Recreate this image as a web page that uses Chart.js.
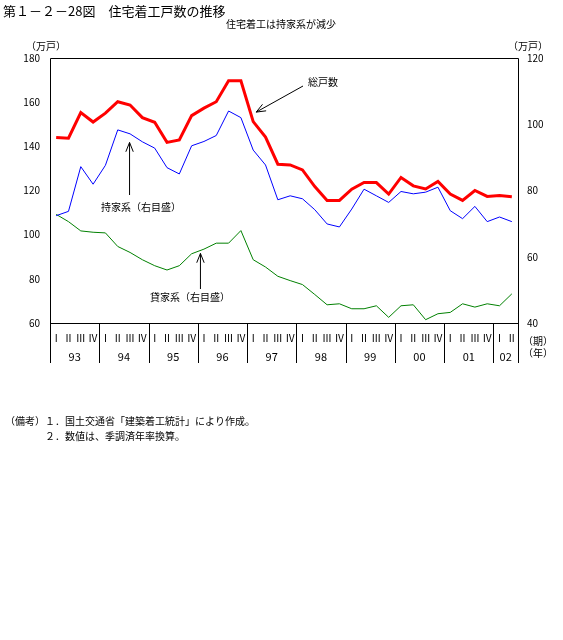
<!DOCTYPE html>
<html>
<head>
<meta charset="utf-8">
<script src="https://cdn.jsdelivr.net/npm/chart.js@4/dist/chart.umd.min.js"></script>
<style>
  html, body { margin: 0; padding: 0; background: #fff; }
  #wrap { width: 563px; height: 640px; position: relative; }
</style>
</head>
<body>
<div id="wrap"><canvas id="grafico" width="563" height="640"></canvas></div>
<script>
// datos (trimestral, 93 I ~ 02 II)
const anios = ['93', '94', '95', '96', '97', '98', '99', '00', '01', '02'];
const trimestres = ['Ⅰ', 'Ⅱ', 'Ⅲ', 'Ⅳ'];
const trimPorAnio = [4, 4, 4, 4, 4, 4, 4, 4, 4, 2];

// 総戸数 (左目盛, 万戸)
const totalViviendas = [144, 143.7, 155.3, 151, 155, 160.2, 158.7, 153, 150.9, 141.8, 142.9, 153.9,
  157.3, 160.2, 169.7, 169.7, 151.2, 144.2, 131.9, 131.6, 129.3, 121.8, 115.5, 115.5,
  120.6, 123.6, 123.6, 118.4, 125.9, 122.1, 120.7, 124.1, 118.4, 115.5, 120, 117.3, 117.7, 117.2];
// 持家系 (右目盛)
const propias = [72.4, 73.7, 87.2, 81.9, 87.6, 98.3, 97.1, 94.7, 92.8, 86.9, 85, 93.5,
  94.8, 96.6, 104, 102, 92.2, 87.7, 77.2, 78.4, 77.5, 74.2, 69.9, 69,
  74.4, 80.4, 78.4, 76.4, 79.7, 79, 79.5, 81, 73.9, 71.5, 75.2, 70.6, 72, 70.6];
// 貸家系 (右目盛)
const alquiler = [72.8, 70.6, 67.8, 67.4, 67.2, 63.1, 61.3, 59.1, 57.3, 56, 57.3, 60.9,
  62.3, 64.1, 64.1, 67.9, 59.1, 56.9, 54.1, 52.8, 51.6, 48.6, 45.5, 45.8,
  44.3, 44.3, 45.2, 41.7, 45.2, 45.5, 41, 42.8, 43.2, 45.8, 44.8, 45.8, 45.2, 48.8];

const ticksIzq = [60, 80, 100, 120, 140, 160, 180];
const ticksDer = [40, 60, 80, 100, 120];

// etiquetas de categorias
const categorias = [];
anios.forEach(function(a, i) {
  for (let q = 0; q < trimPorAnio[i]; q++) {
    categorias.push(a + ' ' + trimestres[q]);
  }
});

const fuente = "'Noto Sans CJK JP', 'Noto Sans', sans-serif";

function flecha(ctx, x1, y1, x2, y2) {
  ctx.beginPath();
  ctx.moveTo(x1, y1);
  ctx.lineTo(x2, y2);
  const ang = Math.atan2(y2 - y1, x2 - x1);
  const L = 10, w = 0.38;
  ctx.moveTo(x2 - L * Math.cos(ang - w), y2 - L * Math.sin(ang - w));
  ctx.lineTo(x2, y2);
  ctx.lineTo(x2 - L * Math.cos(ang + w), y2 - L * Math.sin(ang + w));
  ctx.stroke();
}

const decoracion = {
  id: 'decoracion',
  afterDraw: function(chart) {
    const ctx = chart.ctx;
    const area = chart.chartArea;
    const xs = chart.scales.x;
    const yl = chart.scales.yIzq;
    const yr = chart.scales.yDer;
    const paso = (area.right - area.left) / categorias.length;
    const fondo = area.bottom + 40;

    ctx.save();
    ctx.strokeStyle = '#000';
    ctx.lineWidth = 1;

    // marco
    ctx.beginPath();
    ctx.moveTo(area.left + 0.5, fondo);
    ctx.lineTo(area.left + 0.5, area.top + 0.5);
    ctx.lineTo(area.right + 0.5, area.top + 0.5);
    ctx.lineTo(area.right + 0.5, fondo);
    ctx.moveTo(area.left, Math.round(area.bottom) + 0.5);
    ctx.lineTo(area.right, Math.round(area.bottom) + 0.5);
    ctx.stroke();

    // separadores de anio y etiquetas
    ctx.fillStyle = '#000';
    ctx.textAlign = 'center';
    ctx.textBaseline = 'middle';
    let k = 0;
    anios.forEach(function(a, i) {
      const n = trimPorAnio[i];
      const x0 = area.left + k * paso;
      if (k > 0) {
        ctx.beginPath();
        ctx.moveTo(Math.round(x0) + 0.5, area.bottom);
        ctx.lineTo(Math.round(x0) + 0.5, fondo);
        ctx.stroke();
      }
      ctx.font = '10px ' + fuente;
      for (let q = 0; q < n; q++) {
        ctx.fillText(trimestres[q], xs.getPixelForValue(k + q), area.bottom + 15);
      }
      ctx.font = '11px ' + fuente;
      ctx.fillText(a, x0 + n * paso / 2, area.bottom + 34);
      k += n;
    });

    ctx.font = '10px ' + fuente;
    ctx.textAlign = 'left';
    ctx.fillText('（期）', area.right + 5, area.bottom + 18);
    ctx.fillText('（年）', area.right + 5, area.bottom + 30);

    // unidades
    ctx.fillText('（万戸）', 26, area.top - 12);
    ctx.fillText('（万戸）', area.right - 10, area.top - 12);

    // titulos
    ctx.font = '13px ' + fuente;
    ctx.fillText('第１－２－28図　住宅着工戸数の推移', 3, 11);
    ctx.font = '10px ' + fuente;
    ctx.textAlign = 'center';
    ctx.fillText('住宅着工は持家系が減少', 281, 24);

    // notas
    ctx.textAlign = 'left';
    ctx.fillText('（備考）１．国土交通省「建築着工統計」により作成。', 5, 421);
    ctx.fillText('２．数値は、季調済年率換算。', 45, 436);

    // anotaciones
    ctx.font = '10px ' + fuente;
    ctx.fillText('総戸数', 308, 82);
    flecha(ctx, 303, 86, xs.getPixelForValue(16) + 3, yl.getPixelForValue(155.5));

    const xp = xs.getPixelForValue(6) - 0.5;
    ctx.textAlign = 'center';
    ctx.fillText('持家系（右目盛）', 141, 207);
    flecha(ctx, xp, 195, xp, yr.getPixelForValue(94.5));

    const xa = xs.getPixelForValue(12) - 3.5;
    ctx.fillText('貸家系（右目盛）', 190, 297);
    flecha(ctx, xa, 289, xa, yr.getPixelForValue(61));

    ctx.restore();
  }
};

const grafico = new Chart(document.getElementById('grafico'), {
  type: 'line',
  data: {
    labels: categorias,
    datasets: [{
      label: '総戸数',
      data: totalViviendas,
      yAxisID: 'yIzq',
      borderColor: '#ff0000',
      borderWidth: 3,
      pointRadius: 0,
      tension: 0
    }, {
      label: '持家系',
      data: propias,
      yAxisID: 'yDer',
      borderColor: '#0000ff',
      borderWidth: 1,
      pointRadius: 0,
      tension: 0
    }, {
      label: '貸家系',
      data: alquiler,
      yAxisID: 'yDer',
      borderColor: '#008000',
      borderWidth: 1,
      pointRadius: 0,
      tension: 0
    }]
  },
  options: {
    responsive: false,
    animation: false,
    devicePixelRatio: 1,
    layout: { padding: { top: 58, bottom: 317, left: 0, right: 0 } },
    plugins: {
      legend: { display: false },
      tooltip: { enabled: false }
    },
    scales: {
      x: {
        type: 'category',
        offset: true,
        display: false
      },
      yIzq: {
        position: 'left',
        min: ticksIzq[0],
        max: ticksIzq[ticksIzq.length - 1],
        afterFit: function(s) { s.width = 50; },
        afterBuildTicks: function(s) { s.ticks = ticksIzq.map(function(v) { return { value: v }; }); },
        grid: { display: false, drawTicks: false },
        border: { display: false },
        ticks: { padding: 10, color: '#000', font: { family: fuente, size: 10 } }
      },
      yDer: {
        position: 'right',
        min: ticksDer[0],
        max: ticksDer[ticksDer.length - 1],
        afterFit: function(s) { s.width = 45; },
        afterBuildTicks: function(s) { s.ticks = ticksDer.map(function(v) { return { value: v }; }); },
        grid: { display: false, drawTicks: false },
        border: { display: false },
        ticks: { padding: 9, color: '#000', font: { family: fuente, size: 10 } }
      }
    }
  },
  plugins: [decoracion]
});
</script>
</body>
</html>
